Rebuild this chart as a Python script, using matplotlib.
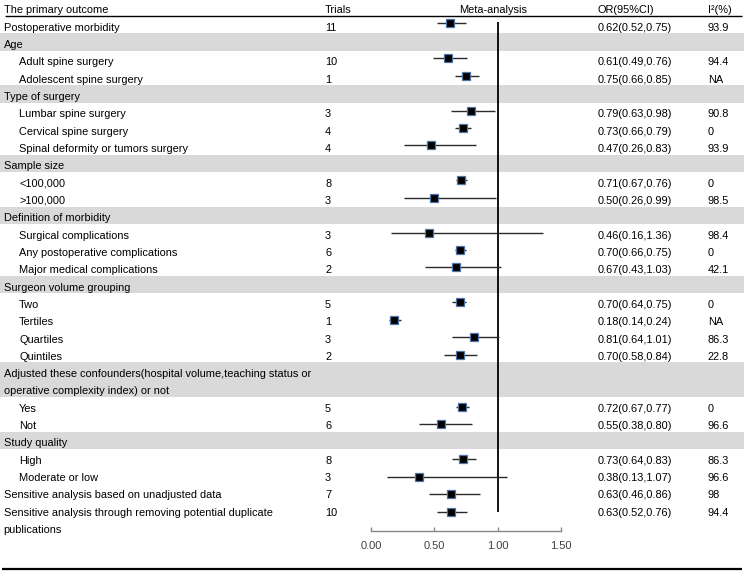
import matplotlib
matplotlib.use("Agg")
import matplotlib.pyplot as plt

# ---------------- data ----------------
row_labels = [
    "Postoperative morbidity",
    "Age",
    "Adult spine surgery",
    "Adolescent spine surgery",
    "Type of surgery",
    "Lumbar spine surgery",
    "Cervical spine surgery",
    "Spinal deformity or tumors surgery",
    "Sample size",
    "<100,000",
    ">100,000",
    "Definition of morbidity",
    "Surgical complications",
    "Any postoperative complications",
    "Major medical complications",
    "Surgeon volume grouping",
    "Two",
    "Tertiles",
    "Quartiles",
    "Quintiles",
    "Adjusted these confounders(hospital volume,teaching status or\noperative complexity index) or not",
    "Yes",
    "Not",
    "Study quality",
    "High",
    "Moderate or low",
    "Sensitive analysis based on unadjusted data",
    "Sensitive analysis through removing potential duplicate\npublications",
]
row_kinds = [
    "top", "group", "item", "item", "group", "item", "item", "item",
    "group", "item", "item", "group", "item", "item", "item",
    "group", "item", "item", "item", "item", "group", "item", "item",
    "group", "item", "item", "top", "top",
]
trials = [11, None, 10, 1, None, 3, 4, 4, None, 8, 3, None, 3, 6, 2,
          None, 5, 1, 3, 2, None, 5, 6, None, 8, 3, 7, 10]
or_est = [0.62, None, 0.61, 0.75, None, 0.79, 0.73, 0.47, None, 0.71, 0.50,
          None, 0.46, 0.70, 0.67, None, 0.70, 0.18, 0.81, 0.70, None, 0.72,
          0.55, None, 0.73, 0.38, 0.63, 0.63]
ci_low = [0.52, None, 0.49, 0.66, None, 0.63, 0.66, 0.26, None, 0.67, 0.26,
          None, 0.16, 0.66, 0.43, None, 0.64, 0.14, 0.64, 0.58, None, 0.67,
          0.38, None, 0.64, 0.13, 0.46, 0.52]
ci_high = [0.75, None, 0.76, 0.85, None, 0.98, 0.79, 0.83, None, 0.76, 0.99,
           None, 1.36, 0.75, 1.03, None, 0.75, 0.24, 1.01, 0.84, None, 0.77,
           0.80, None, 0.83, 1.07, 0.86, 0.76]
i2_text = ["93.9", None, "94.4", "NA", None, "90.8", "0", "93.9", None, "0",
           "98.5", None, "98.4", "0", "42.1", None, "0", "NA", "86.3", "22.8",
           None, "0", "96.6", None, "86.3", "96.6", "98", "94.4"]
headers = ["The primary outcome", "Trials", "Meta-analysis", "OR(95%CI)", "I\u00b2(%)"]
x_ticks = [0.0, 0.5, 1.0, 1.5]

# ---------------- layout ----------------
W, H = 744, 572
fig = plt.figure(figsize=(W / 100, H / 100), dpi=100)
plt.rcParams["font.family"] = ["Liberation Sans", "DejaVu Sans"]
FS = 7.9

row_h = 17.32
row0 = 9.4
ax = fig.add_axes([0, 0, 1, 1])
ax.set_xlim(0, W)
ax.set_ylim((H - row0) / row_h, -row0 / row_h)
ax.axis("off")

# row index of each entry
rows = []
r = 1
for lab in row_labels:
    rows.append(r)
    r += lab.count("\n") + 1

x_cat, x_item, x_trials, x_or, x_i2, x_meta = 3.5, 19, 325, 598, 708, 493
text_dy = 0.06
band_dy = -0.12

# headers
hy = 0.02
ax.text(x_cat, hy, headers[0], fontsize=FS, va="center", ha="left")
ax.text(x_trials, hy, headers[1], fontsize=FS, va="center", ha="left")
ax.text(x_meta, hy, headers[2], fontsize=FS, va="center", ha="center")
ax.text(x_or, hy, headers[3], fontsize=FS, va="center", ha="left")
ax.text(x_i2, hy, headers[4], fontsize=FS, va="center", ha="left")
ax.hlines(0.38, 5, 742, color="black", lw=1.0)
ax.hlines(32.3, 2, 742, color="black", lw=1.6)

for i, lab in enumerate(row_labels):
    ry = rows[i]
    lines = lab.split("\n")
    kind = row_kinds[i]
    if kind == "group":
        ax.axhspan(ry - 0.5 + band_dy, ry + len(lines) - 0.5 + band_dy,
                   color="#d9d9d9", lw=0, zorder=0)
    x0 = x_item if kind == "item" else x_cat
    for k, line in enumerate(lines):
        ax.text(x0, ry + k + text_dy, line, fontsize=FS, va="center", ha="left")
    if trials[i] is not None:
        ax.text(x_trials, ry + text_dy, str(trials[i]), fontsize=FS, va="center", ha="left")
        ax.text(x_or, ry + text_dy, f"{or_est[i]:.2f}({ci_low[i]:.2f},{ci_high[i]:.2f})",
                fontsize=FS, va="center", ha="left")
        ax.text(x_i2, ry + text_dy, i2_text[i], fontsize=FS, va="center", ha="left")

# ---------------- forest axes ----------------
px_left, px_right = 371, 561
px_axis = 531
axf = fig.add_axes([px_left / W, (H - px_axis) / H, (px_right - px_left) / W, px_axis / H])
axf.set_facecolor("none")
m_row_h = 17.44
m_first = 23.3  # px of row 1
off = m_first - m_row_h
axf.set_ylim((px_axis - off) / m_row_h, -off / m_row_h)
axf.set_xlim(x_ticks[0], x_ticks[-1])

data_rows = [rows[i] for i in range(len(rows)) if or_est[i] is not None]
est = [v for v in or_est if v is not None]
lo = [v for v in ci_low if v is not None]
hi = [v for v in ci_high if v is not None]

axf.vlines(1.0, data_rows[0] - 0.1, data_rows[-1], color="black", lw=1.3, zorder=2)
axf.hlines(data_rows, lo, hi, color="#2a2a2a", lw=1.0, zorder=3)
axf.plot(est, data_rows, "s", ms=6.4, mfc="black", mec="#4f74a8", mew=0.9, zorder=4, ls="none")

for s in ["top", "right", "left"]:
    axf.spines[s].set_visible(False)
axf.spines["bottom"].set_color("#868686")
axf.spines["bottom"].set_linewidth(1.0)
axf.set_yticks([])
axf.set_xticks(x_ticks)
axf.set_xticklabels([f"{t:.2f}" for t in x_ticks])
axf.tick_params(axis="x", direction="in", length=3, width=1, color="#868686",
                pad=7, labelsize=8, labelcolor="#404040")
for lbl in axf.get_xticklabels():
    lbl.set_clip_on(False)

fig.savefig("out.png", dpi=100)
